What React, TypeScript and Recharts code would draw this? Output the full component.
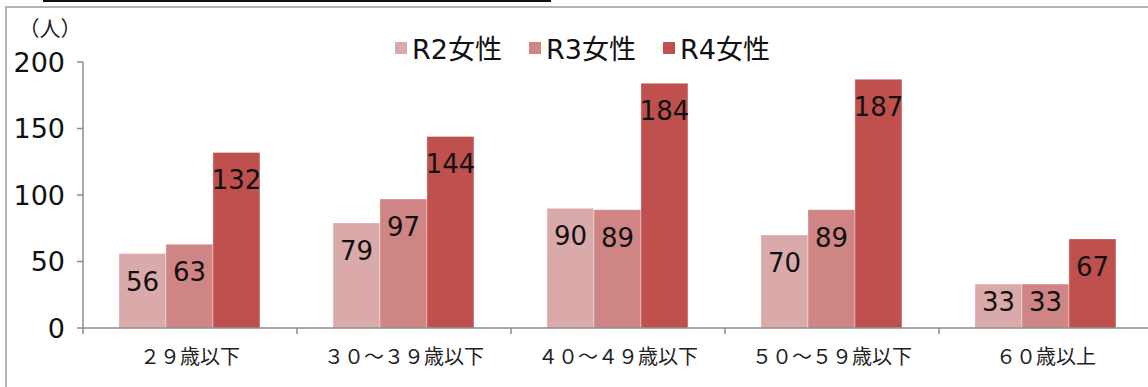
import React from "react";
import { BarChart, Bar, XAxis, YAxis, LabelList } from "recharts";

const categories = [
  "２９歳以下",
  "３０～３９歳以下",
  "４０～４９歳以下",
  "５０～５９歳以下",
  "６０歳以上",
];
const r2 = [56, 79, 90, 70, 33];
const r3 = [63, 97, 89, 89, 33];
const r4 = [132, 144, 184, 187, 67];
const yTicks = [0, 50, 100, 150, 200];

const series = [
  { key: "r2", name: "R2女性", color: "#DAAAAA" },
  { key: "r3", name: "R3女性", color: "#CE8583" },
  { key: "r4", name: "R4女性", color: "#C0504D" },
];

const data = categories.map((cat, i) => ({
  cat,
  r2: r2[i],
  r3: r3[i],
  r4: r4[i],
}));

const CHART_W = 1160;
const CHART_H = 387;
const MARGIN = { top: 62, right: 7, left: 0, bottom: 29 };
const Y_AXIS_W = 83;
const X_AXIS_H = 30;
const bandW = (CHART_W - MARGIN.left - Y_AXIS_W - MARGIN.right) / categories.length;

const latin = "'DejaVu Sans', 'Noto Sans CJK JP', sans-serif";
const cjk = "'Noto Sans CJK JP', sans-serif";
const axisGray = "#8c8c8c";

// category label centred in the band, tick marks on the band edges
// eslint-disable-next-line @typescript-eslint/no-explicit-any
const CategoryTick = (props: any) => {
  const { x, y, payload, index } = props;
  const axisY = y - 6;
  const last = index === categories.length - 1;
  return (
    <g>
      <line x1={x - bandW / 2} x2={x - bandW / 2} y1={axisY} y2={axisY + 6} stroke={axisGray} strokeWidth={1.5} />
      {last && (
        <line x1={x + bandW / 2} x2={x + bandW / 2} y1={axisY} y2={axisY + 6} stroke={axisGray} strokeWidth={1.5} />
      )}
      <text x={x} y={y} dy={30} textAnchor="middle" fontFamily={cjk} fontSize={20} fill="#222">
        {payload.value}
      </text>
    </g>
  );
};

// value label just inside the top of each bar
// eslint-disable-next-line @typescript-eslint/no-explicit-any
const ValueLabel = (props: any) => {
  const { x, y, width, height, value } = props;
  const base = Math.min(37, height - 17);
  return (
    <text x={x + width / 2} y={y + base} textAnchor="middle" fontFamily={latin} fontSize={26} fill="#111">
      {value}
    </text>
  );
};

const App = () => {
  return (
    <div
      style={{
        position: "absolute",
        left: 0,
        top: 0,
        width: 1148,
        height: 387,
        overflow: "hidden",
        background: "#fff",
      }}
    >
      <div
        style={{
          position: "absolute",
          left: 43,
          top: -20,
          width: 508,
          height: 22,
          boxSizing: "border-box",
          border: "2px solid #111",
        }}
      />
      <div
        style={{
          position: "absolute",
          left: 5,
          top: 6,
          width: 1160,
          height: 420,
          boxSizing: "border-box",
          border: "2px solid #b4b4b4",
        }}
      />
      <svg
        width={110}
        height={44}
        style={{ position: "absolute", left: 0, top: 10, overflow: "visible" }}
      >
        <text x={50} y={26} textAnchor="middle" fontFamily={cjk} fontSize={21} fill="#222">
          （人）
        </text>
      </svg>
      <div
        style={{
          position: "absolute",
          left: 395,
          top: 28,
          display: "flex",
          alignItems: "center",
          fontFamily: latin,
          fontSize: 27,
          color: "#111",
        }}
      >
        {series.map((s) => (
          <div key={s.key} style={{ display: "flex", alignItems: "center", width: 134 }}>
            <span style={{ width: 12, height: 12, background: s.color, marginRight: 5 }} />
            <span>{s.name}</span>
          </div>
        ))}
      </div>
      <div style={{ position: "absolute", left: 0, top: 0 }}>
        <BarChart
          width={CHART_W}
          height={CHART_H}
          data={data}
          margin={MARGIN}
          barCategoryGap="16.8%"
          barGap={0}
        >
          <XAxis
            dataKey="cat"
            height={X_AXIS_H}
            axisLine={{ stroke: axisGray, strokeWidth: 1.5 }}
            tickLine={false}
            tickSize={6}
            tickMargin={0}
            interval={0}
            tick={<CategoryTick />}
          />
          <YAxis
            width={Y_AXIS_W}
            domain={[0, 200]}
            ticks={yTicks}
            interval={0}
            axisLine={{ stroke: axisGray, strokeWidth: 1.5 }}
            tickLine={{ stroke: axisGray, strokeWidth: 1.5 }}
            tickSize={6}
            tickMargin={12}
            tick={{ fontFamily: latin, fontSize: 27, fill: "#111" }}
          />
          {series.map((s) => (
            <Bar
              key={s.key}
              dataKey={s.key}
              name={s.name}
              fill={s.color}
              stroke="rgba(255,255,255,0.35)"
              strokeWidth={1}
              isAnimationActive={false}
            >
              <LabelList dataKey={s.key} content={<ValueLabel />} />
            </Bar>
          ))}
        </BarChart>
      </div>
    </div>
  );
};

export default App;
